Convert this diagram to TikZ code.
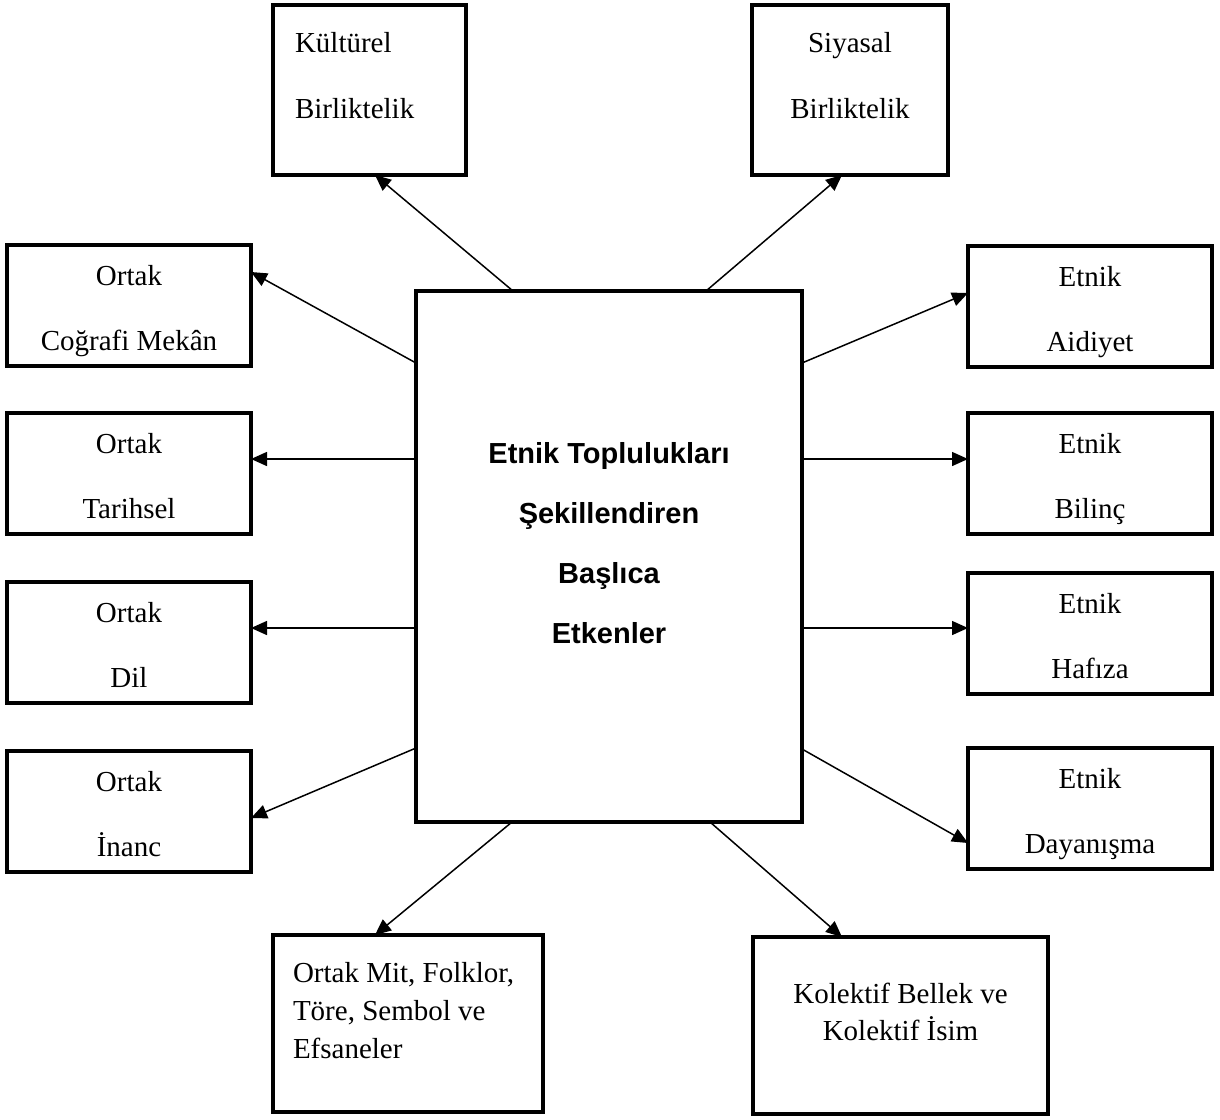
\documentclass[tikz,border=0pt]{standalone}
\usepackage{fontspec}
\setmainfont{Liberation Serif}
\newfontfamily\headfont{Liberation Sans}
\usepackage{tikz}
\usetikzlibrary{arrows.meta, positioning}

\begin{document}
\begin{tikzpicture}[factor/.style={rectangle, draw, line width=2.25pt, outer sep=0pt, inner sep=0pt, align=flush center, text height=0pt, font=\fontsize{14.5pt}{32.5pt}\selectfont},
    sidebox/.style={factor, text width=122pt, minimum height=60.5pt, text depth=20.5pt},
    topbox/.style={factor, minimum height=85pt, text depth=38pt, font=\fontsize{14.5pt}{33pt}\selectfont},
    lowbox/.style={factor, minimum height=88.5pt},
    arr/.style={line width=0.75pt, -{Triangle[length=8pt, width=7pt]}},
    node distance=1cm]
        \useasboundingbox (0,0) rectangle (610pt,-559.5pt);
        % centre
        \node[factor, text width=193pt, minimum height=265.5pt, text depth=93.5pt, font=\headfont\bfseries\fontsize{14.5pt}{30pt}\selectfont] (centre) at (304.5pt,-278.25pt) {Etnik Toplulukları\\Şekillendiren\\Başlıca\\Etkenler};
        
        \node[topbox, align=flush left, text width=74.5pt, inner xsep=11pt] (kult) [above left = 58pt and 71.5pt of centre.north] {Kültürel\\Birliktelik};
        \node[topbox, text width=98pt] (siyasal) [above right = 58pt and 71.5pt of centre.north] {Siyasal\\Birliktelik};
        
        % left column
        \node[sidebox] (cografya) [above left = 95.25pt and 82.5pt of centre.west] {Ortak\\Coğrafi Mekân};
        \node[sidebox] (tarih) [below = 23.5pt of cografya] {Ortak\\Tarihsel};
        \node[sidebox] (dil) [below = 24pt of tarih] {Ortak\\Dil};
        \node[sidebox] (inanc) [below = 24pt of dil] {Ortak\\İnanc};
        
        % right column
        \node[sidebox] (aidiyet) [above right = 94.75pt and 83pt of centre.east] {Etnik\\Aidiyet};
        \node[sidebox] (bilinc) [below = 23pt of aidiyet] {Etnik\\Bilinç};
        \node[sidebox] (hafiza) [below = 19.5pt of bilinc] {Etnik\\Hafıza};
        \node[sidebox] (dayanisma) [below = 27pt of hafiza] {Etnik\\Dayanışma};
        
        \node[lowbox, align=flush left, text width=115pt, inner xsep=10pt, text depth=41.5pt, font=\fontsize{14.5pt}{19pt}\selectfont] (mit) [below left = 56.5pt and 33pt of centre.south] {Ortak Mit, Folklor,\\Töre, Sembol ve\\Efsaneler};
        \node[lowbox, text width=147.5pt, text depth=22.5pt, font=\fontsize{14.5pt}{18.5pt}\selectfont] (kolektif) [below right = 57.5pt and 72pt of centre.south] {Kolektif Bellek ve\\Kolektif İsim};
        
        \path[arr] ([xshift=-48pt]centre.north) edge ([xshift=2.75pt]kult.south);
        \path[arr] ([xshift=48.5pt]centre.north) edge ([xshift=-4pt]siyasal.south);
        
        \path[arr] ([yshift=-36pt]centre.north west) edge ([yshift=16.75pt]cografya.east);
        \path[arr] ([yshift=-84pt]centre.north west) edge ([yshift=7.25pt]tarih.east);
        \path[arr] ([yshift=-168.5pt]centre.north west) edge ([yshift=7.25pt]dil.east);
        \path[arr] ([yshift=37pt]centre.south west) edge ([yshift=-3.25pt]inanc.east);
        
        \path[arr] ([yshift=-36pt]centre.north east) edge ([yshift=6.75pt]aidiyet.west);
        \path[arr] ([yshift=-84pt]centre.north east) edge ([yshift=7.25pt]bilinc.west);
        \path[arr] ([yshift=-168.5pt]centre.north east) edge ([yshift=2.75pt]hafiza.west);
        \path[arr] ([yshift=36.5pt]centre.south east) edge ([yshift=-17.25pt]dayanisma.west);
        
        \path[arr] ([xshift=-48.5pt]centre.south) edge ([xshift=-16.5pt]mit.north);
        \path[arr] ([xshift=50.5pt]centre.south) edge ([xshift=-29.25pt]kolektif.north);
    \end{tikzpicture}
\end{document}
